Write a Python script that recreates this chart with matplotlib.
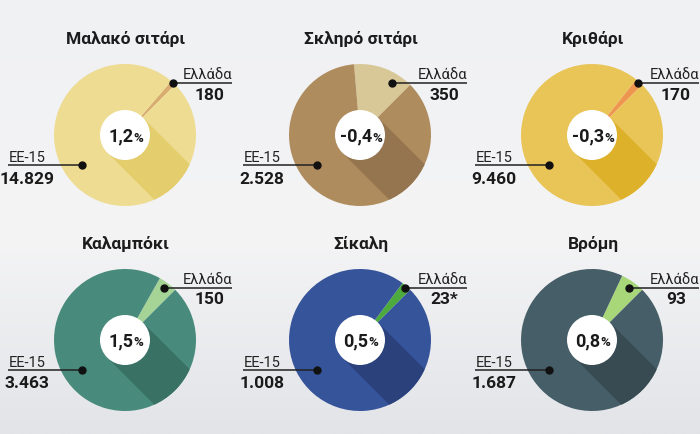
import numpy as np
import matplotlib
matplotlib.use("Agg")
import matplotlib.pyplot as plt
from matplotlib.patches import Circle, Polygon
from matplotlib.offsetbox import TextArea, HPacker, AnnotationBbox

plt.rcParams['font.family'] = ['Roboto', 'DejaVu Sans']

# ---- data ----
titles = ["Μαλακό σιτάρι", "Σκληρό σιτάρι", "Κριθάρι", "Καλαμπόκι", "Σίκαλη", "Βρόμη"]
eu15 = [14829, 2528, 9460, 3463, 1008, 1687]
greece = [180, 350, 170, 150, 23, 93]
greece_labels = ["180", "350", "170", "150", "23*", "93"]
eu15_labels = ["14.829", "2.528", "9.460", "3.463", "1.008", "1.687"]
changes = ["1,2", "-0,4", "-0,3", "1,5", "0,5", "0,8"]

main_colors = ["#EEDC92", "#AF8C5E", "#E9C457", "#488B7C", "#36549A", "#465E68"]
shadow_colors = ["#E3CD6C", "#957550", "#DDB22A", "#3A7165", "#2A417C", "#384B53"]
greek_colors = ["#D8AC6C", "#D8C898", "#EE9550", "#A6D396", "#4DAA3C", "#A7D779"]

W, H = 700, 434
fig = plt.figure(figsize=(7, 4.34), dpi=100)
ax = fig.add_axes([0, 0, 1, 1])

# background (light cloudy sky approximation)
top = np.array([240, 241, 243]) / 255
mid = np.array([244, 244, 245]) / 255
bot = np.array([226, 228, 232]) / 255
rows = []
for g in np.linspace(0, 1, 200):
    if g < 0.55:
        rows.append(top + (mid - top) * g / 0.55)
    else:
        rows.append(mid + (bot - mid) * (g - 0.55) / 0.45)
img = np.array(rows)[:, None, :]
ax.imshow(img, extent=[0, W, 0, H], aspect='auto', zorder=0)

cxs = [125, 360, 592]
cys_img = [135, 340]
R = 71
RC = 25

for i in range(6):
    cx = cxs[i % 3]
    cy = H - cys_img[i // 3]
    g, e = greece[i], eu15[i]
    wedges, _ = ax.pie([g, e - g], colors=[greek_colors[i], main_colors[i]],
                       startangle=45, counterclock=True, radius=R, center=(cx, cy),
                       wedgeprops=dict(linewidth=0), frame=True)
    for w in wedges:
        w.set_zorder(2)
    # long shadow
    d = np.array([np.cos(np.radians(-45)), np.sin(np.radians(-45))])
    n = np.array([np.cos(np.radians(45)), np.sin(np.radians(45))])
    c = np.array([cx, cy])
    L = 2 * R
    pts = [c + RC * n, c + RC * n + L * d, c - RC * n + L * d, c - RC * n]
    sh = Polygon(pts, closed=True, facecolor=shadow_colors[i], edgecolor='none', zorder=3)
    ax.add_patch(sh)
    clipc = Circle((cx, cy), R, transform=ax.transData)
    sh.set_clip_path(clipc)
    ax.add_patch(Circle((cx, cy), RC, facecolor='white', edgecolor='none', zorder=4))

    # center text
    t1 = TextArea(changes[i], textprops=dict(fontsize=13, fontweight='bold', color='#1a1a1a'))
    t2 = TextArea("%", textprops=dict(fontsize=9.5, fontweight='bold', color='#1a1a1a'))
    pack = HPacker(children=[t1, t2], align="baseline", pad=0, sep=0)
    ab = AnnotationBbox(pack, (cx + 1, cy - 1.5), frameon=False, box_alignment=(0.5, 0.5), zorder=5)
    ax.add_artist(ab)

    # title
    ax.text(cx + 1, cy + 91, titles[i], ha='center', va='baseline', fontsize=12.5,
            fontweight='bold', color='#1c1c1c', zorder=6)

    # Greece label
    frac = g / e
    midang = min(45 + frac * 180, 58)
    ly = cy + 52
    dx = cx + 52 / np.tan(np.radians(midang))
    ax.plot([dx, cx + 107], [ly, ly], color='#222222', lw=1.1, zorder=6, solid_capstyle='butt')
    ax.plot(dx, ly, 'o', ms=5, color='#111111', zorder=7)
    ax.text(cx + 83, ly + 4.5, "Ελλάδα", ha='center', va='baseline', fontsize=10.5,
            color='#222222', zorder=6)
    ax.text(cx + 84, ly - 16.5, greece_labels[i], ha='center', va='baseline', fontsize=12.5,
            fontweight='bold', color='#1a1a1a', zorder=6)

    # EU-15 label
    ey = cy - 30
    ax.plot([cx - 117, cx - 43], [ey, ey], color='#222222', lw=1.1, zorder=6, solid_capstyle='butt')
    ax.plot(cx - 43, ey, 'o', ms=5, color='#111111', zorder=7)
    ax.text(cx - 98, ey + 3, "ΕΕ-15", ha='center', va='baseline', fontsize=10.5,
            color='#222222', zorder=6)
    ax.text(cx - 98, ey - 18.5, eu15_labels[i], ha='center', va='baseline', fontsize=12.5,
            fontweight='bold', color='#1a1a1a', zorder=6)

ax.set_xlim(0, W)
ax.set_ylim(0, H)
ax.set_aspect('auto')
ax.axis('off')
fig.savefig("out.png", dpi=100)
